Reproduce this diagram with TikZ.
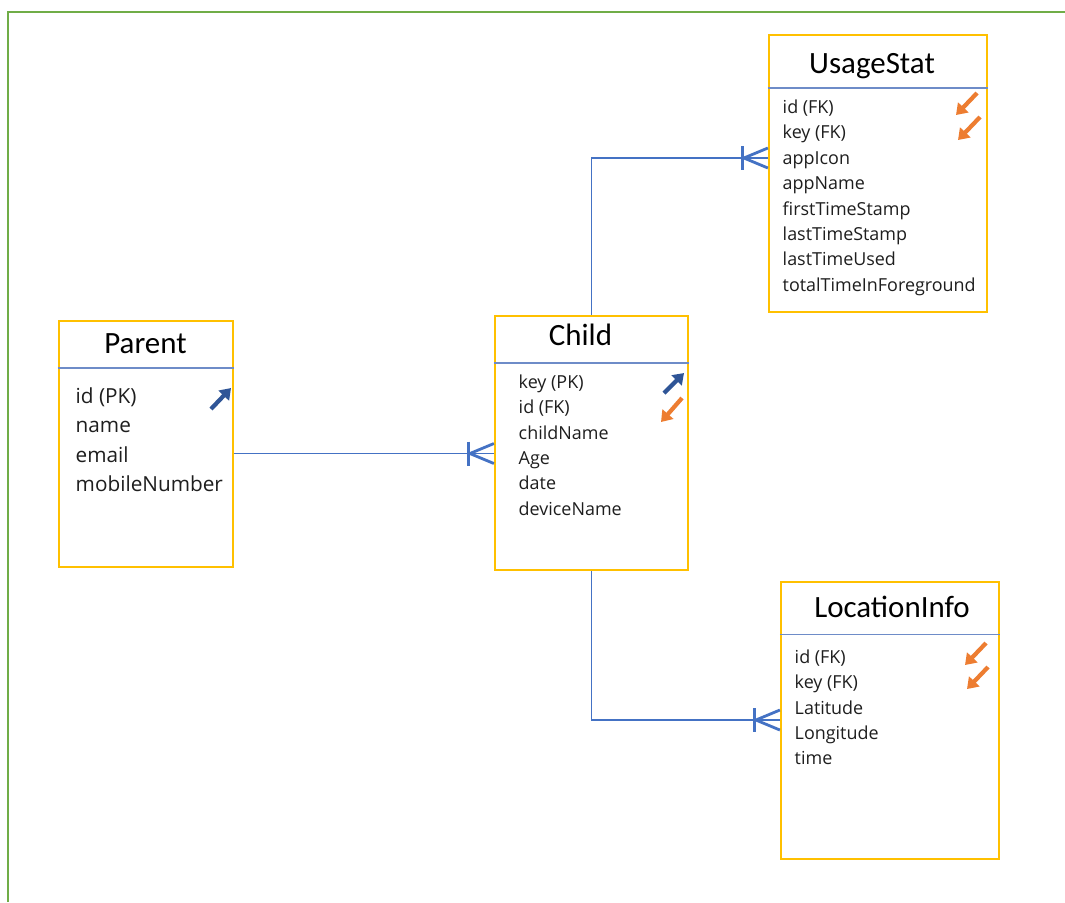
\documentclass[tikz,border=0pt]{standalone}
\usepackage{fontspec}
\setmainfont{Open Sans}
\newfontfamily\titlefont{Carlito}
\usetikzlibrary{arrows.meta}

\definecolor{boxgold}{RGB}{255,192,0}
\definecolor{linkblue}{RGB}{68,114,196}
\definecolor{sepblue}{RGB}{110,140,200}
\definecolor{pkblue}{RGB}{47,85,151}
\definecolor{fkorange}{RGB}{237,125,49}
\definecolor{framegreen}{RGB}{112,173,71}
\definecolor{textgrey}{RGB}{30,30,30}

\tikzset{
  entity/.style={draw=boxgold, line width=0.6pt, fill=white, inner sep=0pt},
  sep/.style={draw=sepblue, line width=0.3pt},
  title/.style={anchor=base, inner sep=0pt, font=\titlefont\fontsize{8.8}{10}\selectfont},
  field/.style={anchor=base west, inner sep=0pt, text=textgrey, font=\fontsize{5.1}{6}\selectfont},
  bigfield/.style={anchor=base west, inner sep=0pt, text=textgrey, font=\fontsize{5.9}{7}\selectfont},
  link/.style={draw=linkblue, line width=0.35pt},
  crowline/.style={draw=linkblue, line width=0.8pt},
  crowfoot/.pic={
    \draw[crowline] (-25,-12) -- (-25,12);
    \draw[crowline] (0,-10) -- (-24,0) -- (0,10);
  },
  pkkey/.style={draw=pkblue, line width=1.2pt, -{Triangle[length=3pt,width=4pt]}},
  fkkey/.style={draw=fkorange, line width=1.2pt, -{Triangle[length=3pt,width=4pt]}},
}

\begin{document}
\begin{tikzpicture}[x=0.01cm, y=-0.01cm]
  \useasboundingbox (0,0) rectangle (1065,902);

  % page frame
  \draw[framegreen, line width=0.7pt] (8,902) -- (8,12) -- (1065,12);

  % entity boxes
  \node[entity, minimum width=2.18cm, minimum height=2.77cm] (usage) at (878,173.5) {};
  \node[entity, minimum width=1.74cm, minimum height=2.46cm] (parent) at (146,444) {};
  \node[entity, minimum width=1.93cm, minimum height=2.54cm] (child) at (591.5,443) {};
  \node[entity, minimum width=2.18cm, minimum height=2.77cm] (loc) at (890,720.5) {};

  % header separators
  \draw[sep] (usage.west |- 0,88) -- (usage.east |- 0,88);
  \draw[sep] (parent.west |- 0,368) -- (parent.east |- 0,368);
  \draw[sep] (child.west |- 0,363) -- (child.east |- 0,363);
  \draw[sep] (loc.west |- 0,634) -- (loc.east |- 0,634);

  % titles
  \node[title] (usageT) at (872,73) {UsageStat};
  \node[title] (parentT) at (145.5,353) {Parent};
  \node[title] (childT) at (580.5,345) {Child};
  \node[title] (locT) at (892,617) {LocationInfo};

  % UsageStat fields
  \node[field] (u1) at (782,113.5) {id (FK)};
  \node[field] (u2) at (782,138.8) {key (FK)};
  \node[field] (u3) at (782,164.2) {appIcon};
  \node[field] (u4) at (782,189.6) {appName};
  \node[field] (u5) at (782,215) {firstTimeStamp};
  \node[field] (u6) at (782,240.4) {lastTimeStamp};
  \node[field] (u7) at (782,265.8) {lastTimeUsed};
  \node[field] (u8) at (782,291.2) {totalTimeInForeground};

  % Parent fields
  \node[bigfield] (p1) at (75,403.4) {id (PK)};
  \node[bigfield] (p2) at (75,432.8) {name};
  \node[bigfield] (p3) at (75,462.2) {email};
  \node[bigfield] (p4) at (75,491.6) {mobileNumber};

  % Child fields
  \node[field] (c1) at (518,388.5) {key (PK)};
  \node[field] (c2) at (518,413.8) {id (FK)};
  \node[field] (c3) at (518,439.1) {childName};
  \node[field] (c4) at (518,464.4) {Age};
  \node[field] (c5) at (518,489.7) {date};
  \node[field] (c6) at (518,515) {deviceName};

  % LocationInfo fields
  \node[field] (l1) at (794,663.5) {id (FK)};
  \node[field] (l2) at (794,688.8) {key (FK)};
  \node[field] (l3) at (794,714.1) {Latitude};
  \node[field] (l4) at (794,739.4) {Longitude};
  \node[field] (l5) at (794,764.7) {time};

  % key markers
  \draw[pkkey] (211,409) -- (231,388);
  \draw[pkkey] (664,393) -- (684,373);
  \draw[fkkey] (682,398) -- (661,422);
  \draw[fkkey] (977,93) -- (956,115);
  \draw[fkkey] (980,117) -- (958,140);
  \draw[fkkey] (986,643) -- (965,665);
  \draw[fkkey] (988,667) -- (967,689);

  % relationships
  \draw[link] (parent.east |- 0,453.5) -- (child.west |- 0,453.5);
  \pic at (child.west |- 0,453.5) {crowfoot};

  \draw[link] (child.north) |- (usage.west |- 0,158);
  \pic at (usage.west |- 0,158) {crowfoot};

  \draw[link] (child.south) |- (loc.west |- 0,720);
  \pic at (loc.west |- 0,720) {crowfoot};
\end{tikzpicture}
\end{document}
